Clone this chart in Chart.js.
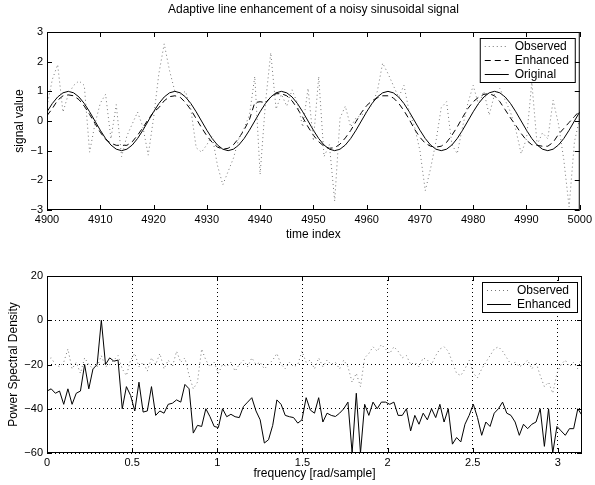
<!DOCTYPE html>
<html>
<head>
<meta charset="utf-8">
<script src="https://cdn.jsdelivr.net/npm/chart.js@4.4.0/dist/chart.umd.min.js"></script>
<style>
  body { margin: 0; background: #fff; }
  canvas { position: absolute; left: 0; }
  #signalChart { top: 0; }
  #psdChart { top: 245px; }
</style>
</head>
<body>
<canvas id="signalChart" width="595" height="245"></canvas>
<canvas id="psdChart" width="595" height="240"></canvas>
<script>
// time axis of the upper plot
const timeIndex = Array.from({ length: 101 }, (_, i) => 4900 + i);

const observedSignal = [
  0.5, 1.4, 1.9, 0.3, 0.9, 1.2, 1.35, 1.2, -1.05, -0.1,
  0.6, 0.9, -0.6, 0.55, -1.2, -0.5, -0.1, 0.3, -0.2, -1.15,
  0.1, 1.6, 2.6, 1.7, 1.0, 0.9, 1.0, 0.4, -0.9, -1.05,
  -0.8, -0.5, -1.5, -2.15, -1.7, -1.25, -0.6, -0.24, 0.2, 1.5,
  -1.8, 0.6, 2.3, 0.4, 0.9, 0.5, 1.05, 0.6, -0.2, 1.1,
  -0.67, 1.5, -1.2, -0.8, -2.7, 0.1, 0.5, -0.2, 0.1, 0.2,
  0.3, 0.55, 1.0, 1.95, 1.6, 1.2, 0.8, 1.2, 0.3, -0.2,
  -1.0, -2.35, -1.6, -0.7, 0.45, 0.65, -0.8, -1.1, -0.2, 0.6,
  1.2, 0.55, 1.0, 0.2, 0.9, 1.1, 0.7, 0.3, -0.3, -1.1,
  -0.6, 1.3, -0.8, -0.4, -0.6, 0.7, -0.1, -1.3, -2.9, -0.7,
  0.1
];

const enhancedSignal = [
  0.18, 0.42, 0.70, 0.85, 0.88, 0.85, 0.72, 0.50, 0.22, -0.08,
  -0.38, -0.62, -0.75, -0.82, -0.82, -0.82, -0.70, -0.48, -0.22, 0.05,
  0.30, 0.45, 0.68, 0.82, 0.85, 0.80, 0.62, 0.38, 0.08, -0.22,
  -0.50, -0.72, -0.88, -0.95, -0.92, -0.80, -0.58, -0.30, 0.05, 0.62,
  0.65, 0.62, 0.80, 0.92, 0.92, 0.85, 0.68, 0.42, 0.12, -0.20,
  -0.48, -0.70, -0.85, -0.92, -0.90, -0.78, -0.57, -0.32, -0.02, 0.28,
  0.52, 0.68, 0.78, 0.85, 0.85, 0.78, 0.60, 0.35, 0.05, -0.28,
  -0.55, -0.75, -0.85, -0.88, -0.85, -0.72, -0.48, -0.20, 0.12, 0.42,
  0.65, 0.80, 0.90, 0.92, 0.85, 0.65, 0.38, 0.10, -0.15, -0.42,
  -0.65, -0.80, -0.82, -0.85, -0.85, -0.72, -0.45, -0.25, -0.05, 0.15,
  0.35
];

const originalSignal = [
  0.31, 0.59, 0.81, 0.95, 1.00, 0.95, 0.81, 0.59, 0.31, 0.00,
  -0.31, -0.59, -0.81, -0.95, -1.00, -0.95, -0.81, -0.59, -0.31, 0.00,
  0.31, 0.59, 0.81, 0.95, 1.00, 0.95, 0.81, 0.59, 0.31, 0.00,
  -0.31, -0.59, -0.81, -0.95, -1.00, -0.95, -0.81, -0.59, -0.31, 0.00,
  0.31, 0.59, 0.81, 0.95, 1.00, 0.95, 0.81, 0.59, 0.31, 0.00,
  -0.31, -0.59, -0.81, -0.95, -1.00, -0.95, -0.81, -0.59, -0.31, 0.00,
  0.31, 0.59, 0.81, 0.95, 1.00, 0.95, 0.81, 0.59, 0.31, 0.00,
  -0.31, -0.59, -0.81, -0.95, -1.00, -0.95, -0.81, -0.59, -0.31, 0.00,
  0.31, 0.59, 0.81, 0.95, 1.00, 0.95, 0.81, 0.59, 0.31, 0.00,
  -0.31, -0.59, -0.81, -0.95, -1.00, -0.95, -0.81, -0.59, -0.31, 0.00,
  0.31
];

// frequency bins of the lower plot (0 .. pi, 129 bins)
const frequency = Array.from({ length: 129 }, (_, i) => i * Math.PI / 128);

const observedPsd = [
  -18, -17, -20, -21, -19, -13, -22, -19, -24, -17,
  -20, -22, -21, -16, -21, -20, -18, -16, -22, -25,
  -18, -15, -21, -19, -23, -17, -20, -15, -22, -18,
  -21, -14, -19, -17, -25, -31, -28, -13, -18, -21,
  -19, -24, -20, -21, -19, -23, -20, -18, -21, -17,
  -20, -19, -22, -20, -18, -15, -20, -22, -19, -21,
  -20, -14, -19, -18, -22, -17, -21, -18, -20, -19,
  -22, -18, -21, -28, -24, -30, -17, -15, -12, -14,
  -11, -13, -15, -12, -14, -17, -16, -20, -19, -21,
  -17, -18, -20, -16, -13, -12, -14, -19, -24, -25,
  -22, -18, -24, -26, -22, -19, -16, -13, -12, -14,
  -17, -20, -19, -21, -20, -18, -22, -19, -25, -30,
  -28, -33, -24, -20, -18, -21, -19, -22, -17
];

const enhancedPsd = [
  -32, -31, -33, -32, -38, -31, -38, -33, -32, -20,
  -31, -22, -20, 0, -20, -17, -18.5, -18, -40, -30,
  -34, -41, -28, -41.5, -41, -30, -43, -41, -42, -38,
  -37.5, -36, -37, -29, -31, -51, -47.5, -48, -40, -43.6,
  -48, -48.5, -40, -43.6, -42.5, -43.6, -44, -39, -37, -35,
  -41, -45, -55.5, -54, -47.5, -36, -38, -43, -43.6, -44,
  -46.5, -45, -35, -40.6, -42, -35, -46, -42, -43, -43.5,
  -42, -40, -37, -60, -33, -60, -38, -43, -37, -40,
  -37, -37, -38, -37, -43, -43, -40, -50, -43, -47,
  -42, -45, -40, -44, -38, -46, -40, -56, -53, -55,
  -47, -43, -38, -44, -52, -46, -48, -42, -40, -37,
  -42, -43, -46, -52, -47, -49, -47, -46, -40, -57,
  -40, -60, -48, -50, -52, -49, -49, -40, -43
];

const signalTicksY = [-3, -2, -1, 0, 1, 2, 3];
const psdTicksY = [-60, -40, -20, 0, 20];

const textFont = "'Liberation Sans', Arial, sans-serif";
Chart.defaults.font.family = textFont;
Chart.defaults.font.size = 11;
Chart.defaults.color = '#000';

const minus = v => String(v).replace('-', '\u2212');

// box around the plot area with inward tick marks, like the matlab axes
const axesBox = {
  id: 'axesBox',
  afterDatasetsDraw(chart) {
    const { ctx, chartArea: a, scales: { x, y } } = chart;
    const len = 5;
    ctx.save();
    ctx.strokeStyle = '#000';
    ctx.lineWidth = 1;
    ctx.beginPath();
    x.ticks.forEach(t => {
      const px = Math.round(x.getPixelForValue(t.value)) + 0.5;
      ctx.moveTo(px, a.bottom); ctx.lineTo(px, a.bottom - len);
      ctx.moveTo(px, a.top); ctx.lineTo(px, a.top + len);
    });
    y.ticks.forEach(t => {
      const py = Math.round(y.getPixelForValue(t.value)) + 0.5;
      ctx.moveTo(a.left, py); ctx.lineTo(a.left + len, py);
      ctx.moveTo(a.right, py); ctx.lineTo(a.right - len, py);
    });
    ctx.stroke();
    ctx.strokeRect(a.left + 0.5, a.top + 0.5, a.width - 1, a.height - 1);
    ctx.restore();
  }
};

// title centred over the plot area (not over the whole canvas)
const plotTitle = {
  id: 'plotTitle',
  afterDraw(chart, args, opts) {
    if (!opts.text) return;
    const { ctx, chartArea: a } = chart;
    ctx.save();
    ctx.font = '12px ' + textFont;
    ctx.fillStyle = '#000';
    ctx.textAlign = 'center';
    ctx.textBaseline = 'middle';
    ctx.fillText(opts.text, (a.left + a.right) / 2, 10);
    ctx.restore();
  }
};

// legend box in the top right corner of the plot
const boxLegend = {
  id: 'boxLegend',
  afterDraw(chart) {
    const { ctx, chartArea: a } = chart;
    const sets = chart.data.datasets;
    const w = 95, rowH = 14;
    const h = sets.length * rowH + 2;
    const left = a.right - 5 - w, top = a.top + 6;
    ctx.save();
    ctx.fillStyle = '#fff';
    ctx.fillRect(left, top, w, h);
    ctx.strokeStyle = '#000';
    ctx.lineWidth = 1;
    ctx.strokeRect(left + 0.5, top + 0.5, w, h);
    ctx.font = '12px ' + textFont;
    ctx.textBaseline = 'middle';
    sets.forEach((ds, i) => {
      const cy = Math.round(top + 7.5 + i * rowH) + 0.5;
      ctx.strokeStyle = ds.borderColor;
      ctx.lineWidth = ds.borderWidth;
      ctx.setLineDash(ds.borderDash || []);
      ctx.beginPath();
      ctx.moveTo(left + 5, cy);
      ctx.lineTo(left + 29, cy);
      ctx.stroke();
      ctx.setLineDash([]);
      ctx.fillStyle = '#000';
      ctx.fillText(ds.label, left + 35, cy);
    });
    ctx.restore();
  }
};

function lineSet(label, xs, ys, color, dash) {
  return {
    label: label,
    data: xs.map((v, i) => ({ x: v, y: ys[i] })),
    borderColor: color,
    borderWidth: 1,
    borderDash: dash,
    pointRadius: 0,
    tension: 0,
    fill: false
  };
}

new Chart(document.getElementById('signalChart'), {
  type: 'line',
  data: {
    datasets: [
      lineSet('Observed', timeIndex, observedSignal, '#777', [1, 3]),
      lineSet('Enhanced', timeIndex, enhancedSignal, '#000', [6, 4]),
      lineSet('Original', timeIndex, originalSignal, '#000', [])
    ]
  },
  options: {
    responsive: false,
    animation: false,
    layout: { padding: { left: 0, right: 13, top: 32, bottom: 0 } },
    plugins: {
      legend: { display: false },
      tooltip: { enabled: false },
      title: { display: false },
      plotTitle: { text: 'Adaptive line enhancement of a noisy sinusoidal signal' }
    },
    scales: {
      x: {
        type: 'linear',
        min: 4900,
        max: 5000,
        afterFit: s => { s.height = 35; },
        ticks: { stepSize: 10, padding: 3, maxRotation: 0, callback: v => String(v) },
        grid: { display: false, drawTicks: false },
        border: { display: false },
        title: { display: true, text: 'time index', font: { size: 12 }, padding: { top: 0, bottom: 2.8 } }
      },
      y: {
        min: -3,
        max: 3,
        afterFit: s => { s.width = 47; },
        afterBuildTicks: s => { s.ticks = signalTicksY.map(v => ({ value: v })); },
        ticks: { padding: 4, callback: minus },
        grid: { display: false, drawTicks: false },
        border: { display: false },
        title: { display: true, text: 'signal value', font: { size: 12 }, padding: { top: 12.8, bottom: 0 } }
      }
    }
  },
  plugins: [axesBox, boxLegend, plotTitle]
});

new Chart(document.getElementById('psdChart'), {
  type: 'line',
  data: {
    datasets: [
      lineSet('Observed', frequency, observedPsd, '#777', [1, 3]),
      lineSet('Enhanced', frequency, enhancedPsd, '#000', [])
    ]
  },
  options: {
    responsive: false,
    animation: false,
    layout: { padding: { left: 0, right: 13, top: 31, bottom: 0 } },
    plugins: {
      legend: { display: false },
      tooltip: { enabled: false }
    },
    scales: {
      x: {
        type: 'linear',
        min: 0,
        max: Math.PI,
        afterFit: s => { s.height = 32; },
        ticks: { stepSize: 0.5, includeBounds: false, padding: 3, maxRotation: 0, callback: v => String(v) },
        grid: { color: '#000', drawTicks: false },
        border: { display: false, dash: [1, 3] },
        title: { display: true, text: 'frequency [rad/sample]', font: { size: 12 }, padding: { top: 0, bottom: 3.8 } }
      },
      y: {
        min: -60,
        max: 20,
        afterFit: s => { s.width = 47; },
        afterBuildTicks: s => { s.ticks = psdTicksY.map(v => ({ value: v })); },
        ticks: { padding: 4, callback: minus },
        grid: { color: '#000', drawTicks: false },
        border: { display: false, dash: [1, 3] },
        title: { display: true, text: 'Power Spectral Density', font: { size: 12 }, padding: { top: 6.8, bottom: 0 } }
      }
    }
  },
  plugins: [axesBox, boxLegend]
});
</script>
</body>
</html>
